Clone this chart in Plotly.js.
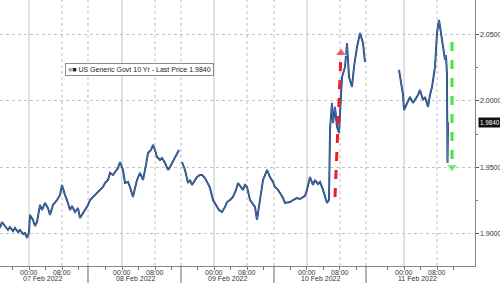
<!DOCTYPE html>
<html><head><meta charset="utf-8">
<script src="https://cdn.plot.ly/plotly-3.0.1.min.js"></script>
<style>html,body{margin:0;padding:0;background:#fff}#c{width:500px;height:283px}</style>
</head><body><div id="c"></div>
<script>
// Session-hour axis (hours of trading time; 07 Feb 00:00 = 0)
const sessionHours = [-7.03,-6.55,-5.82,-5.09,-4.61,-3.88,-3.39,-2.67,-2.18,-1.45,-0.97,-0.48,0,0.24,0.97,1.45,1.94,2.67,3.15,3.88,4.61,5.09,5.82,6.79,7.52,8.0,8.73,9.21,9.94,10.42,11.15,11.88,12.36,13.09,13.58,14.30,14.79,15.52,16.0,16.73,17.21,17.94,18.42,19.15,19.64,20.36,20.85,21.58,22.06,22.79,23.27,24.0,24.48,25.21,25.70,26.18,26.91,27.64,28.36,28.85,29.58,30.06,30.55,31.03,31.76,32.24,32.97,33.70,34.18,34.67,35.39,35.88,36.36,null,37.09,37.82,38.55,39.03,39.52,40.24,40.73,41.45,41.94,42.67,43.15,43.88,44.61,45.33,46.06,46.79,47.52,48.0,48.73,49.45,50.18,50.67,51.39,51.88,52.36,52.85,53.58,54.30,54.79,55.27,56.0,56.73,57.21,57.70,58.42,59.15,59.64,60.36,60.85,61.58,62.06,62.79,63.27,64.0,64.97,65.70,66.42,66.91,67.39,67.88,68.12,68.85,69.33,70.06,70.55,71.27,71.76,72.24,72.73,72.97,73.45,73.70,74.18,74.67,75.15,75.88,76.61,77.09,77.58,78.30,78.79,79.52,80.24,80.97,81.45,null,89.70,90.18,90.67,90.91,91.64,92.36,93.09,93.58,94.30,94.79,95.52,96.0,96.73,97.21,97.70,98.42,98.91,99.39,99.88,100.12,100.85,101.09,101.33,101.45,101.58];
const yields = [1.9045,1.9090,1.9060,1.9030,1.9052,1.9022,1.9045,1.9015,1.9030,1.9000,1.9007,1.8970,1.9015,1.9143,1.9105,1.9060,1.9090,1.9218,1.9180,1.9233,1.9195,1.9143,1.9218,1.9255,1.9293,1.9368,1.9293,1.9255,1.9180,1.9210,1.9165,1.9195,1.9120,1.9158,1.9180,1.9218,1.9255,1.9278,1.9293,1.9323,1.9331,1.9353,1.9383,1.9406,1.9459,1.9443,1.9466,1.9496,1.9541,1.9481,1.9383,1.9391,1.9353,1.9278,1.9346,1.9406,1.9459,1.9406,1.9519,1.9609,1.9631,1.9669,1.9631,1.9579,1.9556,1.9571,1.9534,1.9481,1.9504,1.9534,1.9579,1.9601,1.9631,null,1.9541,1.9481,1.9383,1.9406,1.9368,1.9406,1.9428,1.9443,1.9443,1.9421,1.9391,1.9346,1.9255,1.9218,1.9180,1.9165,1.9203,1.9240,1.9255,1.9278,1.9331,1.9383,1.9346,1.9331,1.9368,1.9353,1.9255,1.9218,1.9203,1.9105,1.9255,1.9406,1.9443,1.9481,1.9428,1.9391,1.9353,1.9331,1.9308,1.9270,1.9233,1.9240,1.9240,1.9255,1.9270,1.9263,1.9278,1.9286,1.9331,1.9391,1.9428,1.9368,1.9406,1.9376,1.9391,1.9331,1.9278,1.9233,1.9255,1.9782,1.9985,1.9834,1.9955,1.9804,1.9759,2.0180,2.0256,2.0436,2.0180,2.0105,2.0256,2.0406,2.0511,2.0436,2.0293,null,2.0233,2.0135,2.0045,1.9932,1.9985,2.0030,1.9985,2.0007,2.0045,2.0083,2.0007,2.0030,1.9955,2.0045,2.0105,2.0256,2.0511,2.0609,2.0496,2.0436,2.0308,2.0346,2.0195,1.9534,1.9840];
// Day structure on the session-hour axis
const dayLabels = ["07 Feb 2022","08 Feb 2022","09 Feb 2022","10 Feb 2022","11 Feb 2022"];
const midnights = [0, 22.55, 44.85, 67.39, 90.91];
const sessionBreaks = [14.30, 36.85, 59.39, 81.70];
const hourOffsets = [-4, 0, 4, 8, 12];
const hourLabels = {0:"00:00", 8:"08:00"};
const yTicks = [1.90, 1.95, 2.00, 2.05];
const yMinorTicks = [1.925, 1.975, 2.025];
const lastPrice = 1.9840;
const legendText = "US Generic Govt 10 Yr - Last Price 1.9840";
// Annotated moves
const redArrowX = [74.18, 75.64], redArrowY = [1.9278, 2.0361];
const greenArrowX = [102.55, 102.55], greenArrowY = [2.0444, 1.9504];

const F = "Liberation Sans, Arial, sans-serif";
const TXT = '#333';
const tickvals = [];
midnights.forEach(m => hourOffsets.forEach(o => tickvals.push(m + o)));
const shapes = [];
midnights.forEach(m => {
  shapes.push({type:'line', xref:'x', yref:'paper', x0:m, x1:m, y0:0, y1:1, line:{color:'#c2c2c2', width:1}, layer:'below'});
  shapes.push({type:'line', xref:'x', yref:'paper', x0:m+8, x1:m+8, y0:0, y1:1, line:{color:'#bdbdbd', width:1, dash:'dot'}, layer:'below'});
});
sessionBreaks.forEach(b => {
  shapes.push({type:'line', xref:'x', yref:'paper', x0:b, x1:b, y0:0, y1:1, line:{color:'#bdbdbd', width:1, dash:'dot'}, layer:'below'});
  shapes.push({type:'line', xref:'x', yref:'paper', x0:b, x1:b, y0:0, y1:-0.065, line:{color:'#666', width:1}});
});
const annotations = [];
midnights.forEach((m,i) => {
  [0,8].forEach(o => annotations.push({x:m+o, xref:'x', y:-0.006, yref:'paper', yanchor:'top', showarrow:false,
    text:hourLabels[o], borderpad:0, font:{family:F, size:7, color:TXT}}));
  annotations.push({x:m+3.3, xref:'x', y:-0.031, yref:'paper', yanchor:'top', showarrow:false,
    text:dayLabels[i], borderpad:0, font:{family:F, size:7, color:TXT}});
});
yTicks.forEach(v => annotations.push({x:1, xref:'paper', xanchor:'left', xshift:4, y:v, yref:'y', showarrow:false,
  text:v.toFixed(4), borderpad:0, font:{family:F, size:7, color:TXT}}));
annotations.push({x: 65/475, xref:'paper', xanchor:'left', y: 2.0233, yref:'y', showarrow:false,
  text: '<span style="color:#aaa">■</span>■ ' + legendText,
  font:{family:F, size:7, color:'#222'}, bgcolor:'#fff', bordercolor:'#8a8a8a', borderwidth:1, borderpad:2});
annotations.push({x: 1, xref:'paper', xanchor:'left', xshift:3, y: lastPrice, yref:'y', showarrow:false,
  text: lastPrice.toFixed(4), font:{family:F, size:6.3, color:'#fff'}, bgcolor:'#111', borderpad:1});

const traces = [
  {x: sessionHours, y: yields, type:'scatter', mode:'lines', line:{color:'#1d3563', width:1.9}, connectgaps:false},
  {x: sessionHours, y: yields, type:'scatter', mode:'lines', line:{color:'#4580c4', width:0.8}, connectgaps:false},
  {x: redArrowX, y: redArrowY, type:'scatter', mode:'lines+markers', line:{color:'#e8202a', width:3, dash:'dash'},
   marker:{symbol:['circle','triangle-up'], size:[0,10], color:'#e8202a'}},
  {x: greenArrowX, y: greenArrowY, type:'scatter', mode:'lines+markers', line:{color:'#3ee83e', width:3, dash:'dash'},
   marker:{symbol:['circle','triangle-down'], size:[0,10], color:'#3ee83e'}}
];
const layout = {
  width:500, height:283, margin:{l:0, r:25, t:0, b:17},
  paper_bgcolor:'#fff', plot_bgcolor:'#fff', showlegend:false,
  xaxis:{range:[-7.03,108.12], showgrid:false, zeroline:false, tickmode:'array', tickvals, showticklabels:false,
    ticks:'outside', ticklen:3, tickcolor:'#777', showline:true, linecolor:'#888', linewidth:1},
  yaxis:{side:'right', range:[1.8759,2.0759], tickmode:'array', tickvals:yTicks, showticklabels:false,
    showgrid:true, gridcolor:'#c4c4c4', griddash:'dot', gridwidth:1, zeroline:false,
    ticks:'outside', ticklen:3, tickcolor:'#555', showline:true, linecolor:'#888', linewidth:1,
    minor:{tickvals:yMinorTicks, ticks:'outside', ticklen:2, tickcolor:'#777', showgrid:false}},
  shapes, annotations
};
Plotly.newPlot('c', traces, layout, {staticPlot:true});
</script></body></html>
